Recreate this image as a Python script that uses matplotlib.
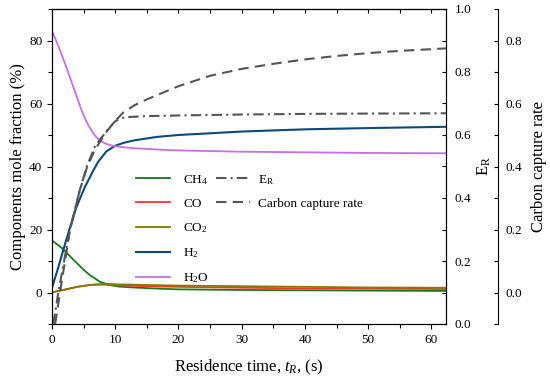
import matplotlib
matplotlib.use('Agg')
import matplotlib.pyplot as plt
from matplotlib.ticker import MultipleLocator
import numpy as np

plt.rcParams['font.family'] = ['Liberation Serif', 'DejaVu Serif']
plt.rcParams['mathtext.fontset'] = 'custom'
plt.rcParams['mathtext.rm'] = 'Liberation Serif'
plt.rcParams['mathtext.it'] = 'Liberation Serif:italic'

# residence time (s) and mole fractions (%)
t_h2o = [0, 1, 2, 3, 4, 4.6, 5.5, 6.5, 7.2, 8.3, 9.5, 11.3, 13, 16.6, 20, 30, 40, 50, 62.3]
h2o = [83, 78.3, 73, 67.4, 61.7, 58.2, 54.0, 50.6, 48.9, 47.4, 46.6, 46.1, 45.8, 45.4, 45.1, 44.7, 44.5, 44.3, 44.2]

t_h2 = [0, 1, 2, 2.6, 3.8, 5.2, 6.5, 7.3, 8.6, 10, 11.3, 13, 16.6, 20, 30, 40, 50, 62.3]
h2 = [1.5, 8, 15, 19, 26.8, 33.5, 38.6, 41.5, 44.8, 46.6, 47.5, 48.3, 49.4, 50.0, 51.1, 51.8, 52.2, 52.6]

t_ch4 = [0, 1, 1.8, 3, 4, 5, 6, 7.6, 9, 10.5, 12.8, 16, 20, 30, 40, 50, 62.3]
ch4 = [16.5, 15.0, 13.7, 11.2, 9.2, 7.2, 5.5, 3.4, 2.4, 1.9, 1.6, 1.3, 1.0, 0.8, 0.7, 0.6, 0.5]

t_co = [0, 1, 2, 4, 6, 7.5, 9, 10, 15, 20, 30, 40, 50, 62.3]
co = [0, 0.5, 0.9, 1.8, 2.4, 2.5, 2.45, 2.3, 2.0, 1.8, 1.5, 1.3, 1.2, 1.1]

t_co2 = [0, 1, 2, 4, 6, 8, 9, 10, 15, 20, 30, 40, 50, 62.3]
co2 = [0, 0.5, 0.9, 1.8, 2.4, 2.7, 2.7, 2.6, 2.4, 2.2, 2.0, 1.8, 1.6, 1.5]

# E_R (right axis)
t_er = [0.2, 1, 2, 2.8, 4.4, 5.5, 6.75, 7.7, 8.6, 9.9, 10.8, 12, 15, 20, 30, 40, 50, 62.3]
er = [0, 0.1, 0.21, 0.297, 0.425, 0.5, 0.562, 0.588, 0.612, 0.642, 0.653, 0.657, 0.66, 0.662, 0.665, 0.667, 0.668, 0.669]

# carbon capture rate (second right axis)
t_ccr = [0.5, 1.5, 2.8, 4.4, 5.5, 6.75, 8.6, 10, 11.3, 13, 15, 20, 25, 30, 35, 40, 45, 50, 55, 62.3]
ccr = [-0.1, 0.03, 0.193, 0.326, 0.395, 0.452, 0.51, 0.545, 0.572, 0.594, 0.613, 0.655, 0.688, 0.71,
       0.726, 0.74, 0.751, 0.76, 0.767, 0.775]

fig = plt.figure(figsize=(5.5, 3.82), dpi=100)
ax = fig.add_axes([52 / 550, 1 - 324 / 382, (446 - 52) / 550, (324 - 9) / 382])

ax.plot(t_ch4, ch4, color='#177a17', lw=1.3, label='CH$_4$')
ax.plot(t_co, co, color='#ff3030', lw=1.3, label='CO')
ax.plot(t_co2, co2, color='#857a00', lw=1.3, label='CO$_2$')
ax.plot(t_h2, h2, color='#0b4a7c', lw=1.5, label='H$_2$')
ax.plot(t_h2o, h2o, color='#c86ee6', lw=1.3, label='H$_2$O')

ax.set_xlim(0, 62.3)
ax.set_ylim(-10, 90)
ax.xaxis.set_major_locator(MultipleLocator(10))
ax.xaxis.set_minor_locator(MultipleLocator(5))
ax.set_yticks([0, 20, 40, 60, 80])
ax.yaxis.set_minor_locator(MultipleLocator(10))
ax.tick_params(which='both', direction='out', labelsize=9.5, right=False, top=False, width=0.8)
ax.tick_params(which='major', length=3.5)
ax.tick_params(which='minor', length=3)
ax.set_xlabel('Residence time, $t_R$, (s)', fontsize=12, labelpad=9)
ax.set_ylabel('Components mole fraction (%)', fontsize=12, labelpad=2)

top = ax.secondary_xaxis('top')
top.xaxis.set_major_locator(MultipleLocator(10))
top.xaxis.set_minor_locator(MultipleLocator(5))
top.tick_params(which='both', direction='in', labeltop=False, length=3, width=0.8)

leg1 = ax.legend(loc='upper left', bbox_to_anchor=(0.213, 0.48), frameon=False, fontsize=9.5,
                 handlelength=2.6, handletextpad=1.0, labelspacing=0.85, borderpad=0, borderaxespad=0)

ax2 = ax.twinx()
l_er, = ax2.plot(t_er, er, color='#555555', lw=1.5, dashes=(5, 2, 1, 2), label='E$_\\mathrm{R}$')
ax2.set_ylim(0, 1.0)
ax2.yaxis.set_major_locator(MultipleLocator(0.2))
ax2.yaxis.set_minor_locator(MultipleLocator(0.1))
ax2.set_yticklabels([f'{v:.1f}' for v in ax2.get_yticks()])
ax2.tick_params(which='both', direction='in', labelsize=9.5, length=3, width=0.8, pad=6)
ax2.set_ylabel('E$_\\mathrm{R}$', fontsize=12, labelpad=3)

ax3 = ax.twinx()
ax3.spines['right'].set_position(('axes', 1.131))
l_ccr, = ax3.plot(t_ccr, ccr, color='#555555', lw=1.5, dashes=(5, 3), label='Carbon capture rate')
ax3.set_ylim(-0.1, 0.9)
ax3.set_yticks([0.0, 0.2, 0.4, 0.6, 0.8])
ax3.set_yticklabels(['0.0', '0.2', '0.4', '0.6', '0.8'])
ax3.yaxis.set_minor_locator(MultipleLocator(0.1))
ax3.tick_params(which='both', direction='in', labelsize=9.5, length=3, width=0.8, pad=6)
ax3.set_ylabel('Carbon capture rate', fontsize=12, labelpad=6)
for s in ['top', 'bottom', 'left']:
    ax3.spines[s].set_visible(False)

ax3.legend(handles=[l_er, l_ccr], loc='upper left', bbox_to_anchor=(0.415, 0.48), frameon=False,
           fontsize=9.5, handlelength=2.6, handletextpad=0.6, labelspacing=0.85, borderpad=0,
           borderaxespad=0)

for a in (ax, ax2, ax3):
    for s in a.spines.values():
        s.set_linewidth(0.8)

fig.savefig('out.png', dpi=100)
